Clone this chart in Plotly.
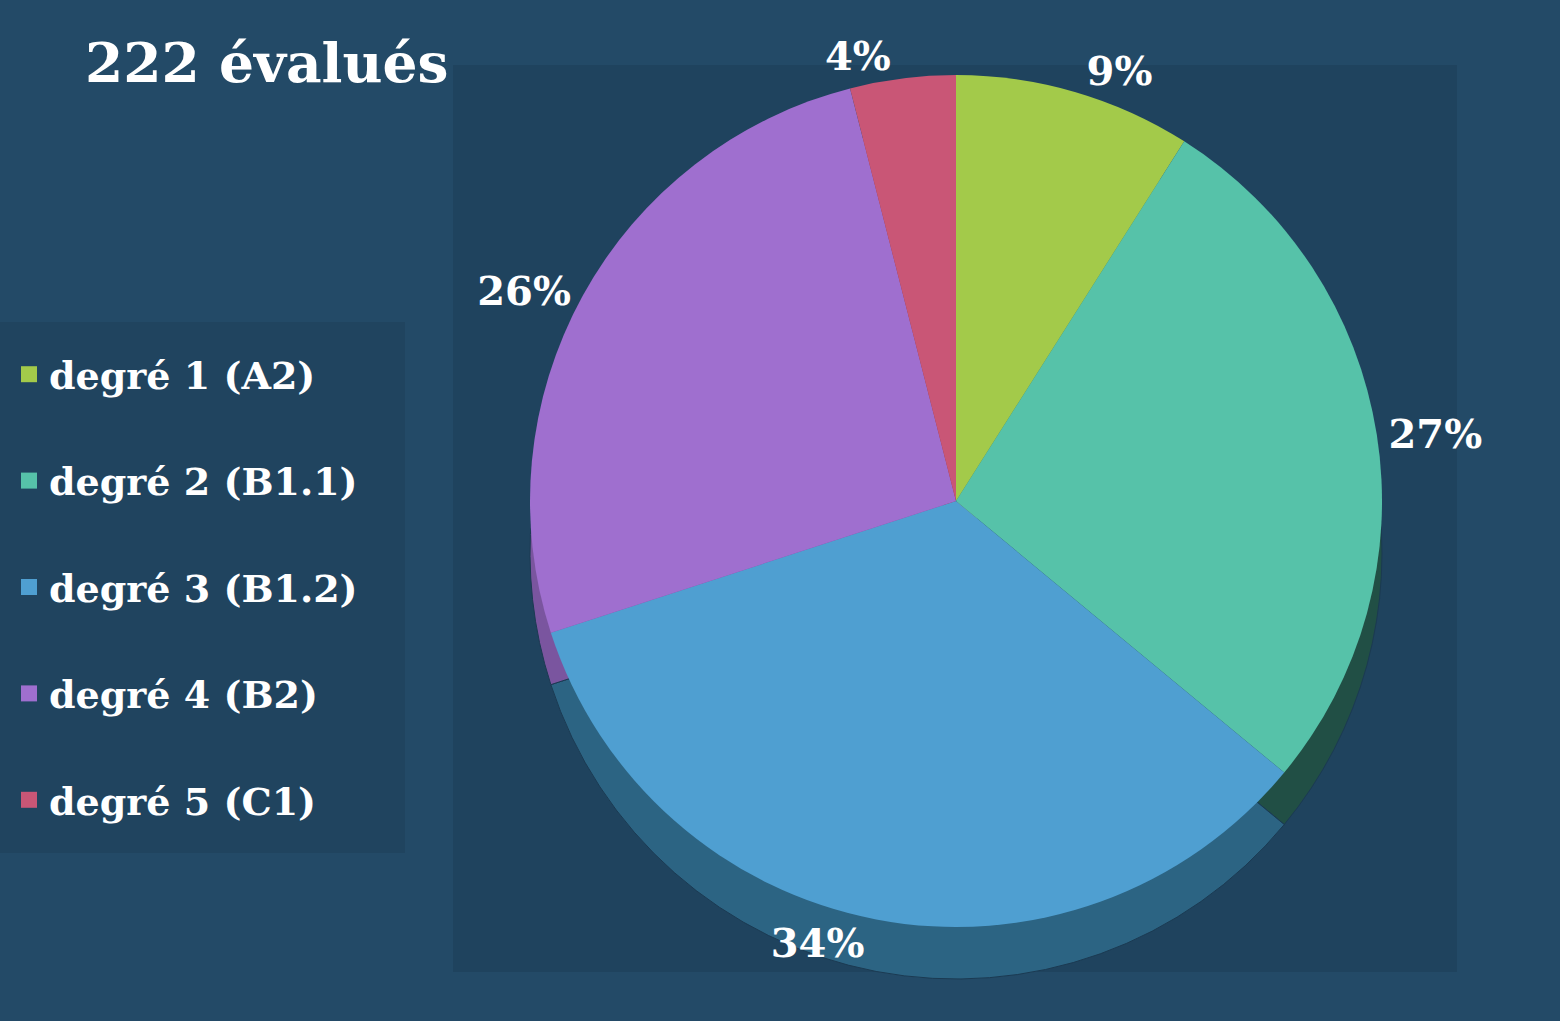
import plotly.graph_objects as go

# ---- data ----
labels = ["degré 1 (A2)", "degré 2 (B1.1)", "degré 3 (B1.2)", "degré 4 (B2)", "degré 5 (C1)"]
percentages = [9, 27, 34, 26, 4]
colors = ["#A3CA4A", "#56C2A9", "#4F9FD1", "#9F6FCF", "#C95676"]
side_colors = ["#66822E", "#214F45", "#2C6483", "#7A559F", "#8A3B51"]
title_text = "222 évalués"

W, H = 1560, 1021
FONT = "DejaVu Serif"

fig = go.Figure()

# pie geometry (pixels)
cx, cy, r = 956, 501, 426
depth = 52


def dom(cx_, cy_, r_):
    return dict(x=[(cx_ - r_) / W, (cx_ + r_) / W],
                y=[(H - cy_ - r_) / H, (H - cy_ + r_) / H])


# 3D "side" of the pie: same pie, darker, shifted down
fig.add_trace(go.Pie(
    labels=labels, values=percentages, sort=False, direction="clockwise", rotation=0,
    marker=dict(colors=side_colors, line=dict(color="#1B3A52", width=1)),
    textinfo="none", hoverinfo="skip", showlegend=False,
    domain=dom(cx, cy + depth, r),
))

# top surface
fig.add_trace(go.Pie(
    labels=labels, values=percentages, sort=False, direction="clockwise", rotation=0,
    marker=dict(colors=colors, line=dict(width=0)),
    texttemplate="%{value}%", textposition="outside",
    outsidetextfont=dict(family=FONT, size=40, color="white", weight="bold"),
    showlegend=False,
    domain=dom(cx, cy, r),
))

# legend entries
for i, (lab, col) in enumerate(zip(labels, colors)):
    fig.add_trace(go.Scatter(
        x=[None], y=[None], mode="markers", name=lab,
        marker=dict(symbol="square", size=16, color=col),
        legendgroup=f"g{i}", showlegend=True,
    ))

fig.update_layout(
    width=W, height=H,
    margin=dict(l=0, r=0, t=0, b=0),
    paper_bgcolor="#234A67",
    plot_bgcolor="rgba(0,0,0,0)",
    xaxis=dict(visible=False),
    yaxis=dict(visible=False),
    title=dict(text=title_text, x=85 / W, xanchor="left", y=1 - 63 / H, yanchor="middle",
               font=dict(family=FONT, size=55, color="white", weight="bold")),
    legend=dict(x=9 / W, xanchor="left", y=1 - 343 / H, yanchor="top",
                font=dict(family=FONT, size=38, color="white", weight="bold"),
                bgcolor="rgba(0,0,0,0)", tracegroupgap=54),
    shapes=[
        dict(type="rect", xref="paper", yref="paper", layer="below",
             x0=453 / W, x1=1457 / W, y0=1 - 972 / H, y1=1 - 65 / H,
             fillcolor="#1F435E", line=dict(width=0)),
        dict(type="rect", xref="paper", yref="paper", layer="below",
             x0=0, x1=405 / W, y0=1 - 853 / H, y1=1 - 322 / H,
             fillcolor="#20445F", line=dict(width=0)),
    ],
)

fig.write_html("out.html", config={"displayModeBar": False},
               post_script="document.body.style.margin='0';document.body.style.overflow='hidden';")
